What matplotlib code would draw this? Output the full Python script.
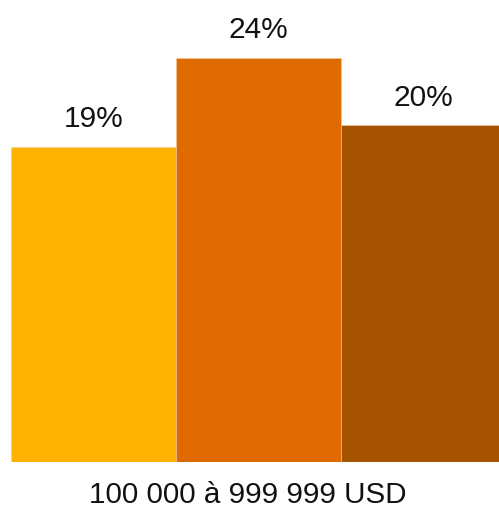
import matplotlib
matplotlib.use("Agg")
import matplotlib.pyplot as plt

categories = ["A", "B", "C"]
values = [18.7, 24.0, 20.0]
labels = ["19%", "24%", "20%"]
colors = ["#FFB300", "#DE6A00", "#A65300"]
xlabel = "100 000 à 999 999 USD"

plt.rcParams['font.family'] = ['Liberation Sans', 'DejaVu Sans']

fig = plt.figure(figsize=(4.99, 5.12), dpi=100)
ax = fig.add_axes([11/499, 50/512, 488/499, 462/512])
x = list(range(len(values)))
bars = ax.bar(x, values, width=1.0, color=colors, edgecolor="#f0c8a0", linewidth=0.4)
ax.set_xlim(-0.5, -0.5 + 488/165)
ax.set_ylim(0, 24 * 462 / 404)
for xi, v, lab in zip(x, values, labels):
    ax.annotate(lab, (xi, v), xytext=(0, 14.2), textcoords="offset points",
                ha="center", va="baseline", fontsize=21.5, color="#111111")
ax.axis("off")
fig.text(248/499, 1 - 503/512, xlabel, ha="center", va="baseline", fontsize=21.3, color="#111111")
fig.savefig("out.png", dpi=100)
